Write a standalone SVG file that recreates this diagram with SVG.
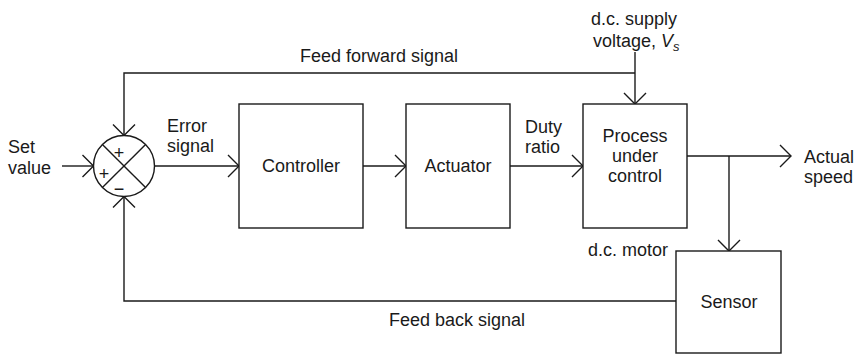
<svg xmlns="http://www.w3.org/2000/svg" width="858" height="355" viewBox="0 0 858 355">
  <style>
    .box { fill: #ffffff; stroke: #1a1a1a; stroke-width: 1.4; }
    .wire { fill: none; stroke: #1a1a1a; stroke-width: 1.4; }
    .lbl { font-family: "Liberation Sans", Arial, Helvetica, sans-serif; font-size: 18px; fill: #1a1a1a; }
    .mid { text-anchor: middle; }
    .sign { font-family: "Liberation Sans", Arial, sans-serif; font-size: 18px; fill: #1a1a1a; text-anchor: middle; }
  </style>
  <defs>
    <marker id="arrow" viewBox="-13 -13 15 26" refX="0" refY="0" markerWidth="15" markerHeight="26" markerUnits="userSpaceOnUse" orient="auto">
      <path d="M-11,-11 L0,0 L-11,11" fill="none" stroke="#1a1a1a" stroke-width="1.4"/>
    </marker>
  </defs>

  <rect width="858" height="355" fill="#ffffff"/>

  <!-- signal paths -->
  <g id="connectors">
    <!-- set value into summing junction -->
    <line class="wire" x1="62" y1="166" x2="93.5" y2="166" marker-end="url(#arrow)"/>
    <!-- error signal to controller -->
    <line class="wire" x1="154.5" y1="166" x2="239" y2="166" marker-end="url(#arrow)"/>
    <!-- controller to actuator -->
    <line class="wire" x1="363" y1="166" x2="406" y2="166" marker-end="url(#arrow)"/>
    <!-- duty ratio to process -->
    <line class="wire" x1="510" y1="166" x2="583" y2="166" marker-end="url(#arrow)"/>
    <!-- process output: actual speed -->
    <line class="wire" x1="687" y1="156" x2="791" y2="156" marker-end="url(#arrow)"/>
    <!-- branch down to sensor -->
    <line class="wire" x1="729" y1="156" x2="729" y2="251" marker-end="url(#arrow)"/>
    <!-- supply voltage into process -->
    <line class="wire" x1="635" y1="52" x2="635" y2="104" marker-end="url(#arrow)"/>
    <!-- feed forward path -->
    <polyline class="wire" points="635,73 124,73 124,135.5" marker-end="url(#arrow)"/>
    <!-- feed back path -->
    <polyline class="wire" points="676,301 124,301 124,196.5" marker-end="url(#arrow)"/>
  </g>

  <!-- summing junction -->
  <g id="summing-junction">
    <circle class="box" cx="124" cy="166" r="30.5"/>
    <line class="wire" x1="102.4" y1="144.4" x2="145.6" y2="187.6"/>
    <line class="wire" x1="145.6" y1="144.4" x2="102.4" y2="187.6"/>
    <text class="sign" x="119" y="159">+</text>
    <text class="sign" x="104" y="180">+</text>
    <text class="sign" x="119" y="195">−</text>
  </g>

  <g id="controller">
    <rect class="box" x="239" y="104" width="124" height="124"/>
    <text class="lbl mid" x="301" y="172">Controller</text>
  </g>

  <g id="actuator">
    <rect class="box" x="406" y="104" width="104" height="124"/>
    <text class="lbl mid" x="458" y="172">Actuator</text>
  </g>

  <g id="process">
    <rect class="box" x="583" y="104" width="104" height="124"/>
    <text class="lbl mid" x="635" y="142">Process</text>
    <text class="lbl mid" x="635" y="162">under</text>
    <text class="lbl mid" x="635" y="182">control</text>
  </g>

  <g id="sensor">
    <rect class="box" x="676" y="251" width="105" height="102"/>
    <text class="lbl mid" x="729" y="308">Sensor</text>
  </g>

  <!-- labels -->
  <g id="labels">
    <text class="lbl" x="8" y="153">Set</text>
    <text class="lbl" x="8" y="174">value</text>
    <text class="lbl" x="167" y="132">Error</text>
    <text class="lbl" x="167" y="152">signal</text>
    <text class="lbl" x="525" y="133">Duty</text>
    <text class="lbl" x="525" y="153">ratio</text>
    <text class="lbl" x="804" y="163">Actual</text>
    <text class="lbl" x="804" y="183">speed</text>
    <text class="lbl mid" x="379" y="62">Feed forward signal</text>
    <text class="lbl mid" x="634" y="25">d.c. supply</text>
    <text class="lbl" x="593" y="47">voltage, <tspan font-style="italic">V</tspan><tspan font-style="italic" font-size="13" dy="4">s</tspan></text>
    <text class="lbl" x="668" y="256" text-anchor="end">d.c. motor</text>
    <text class="lbl mid" x="457" y="326">Feed back signal</text>
  </g>
</svg>
